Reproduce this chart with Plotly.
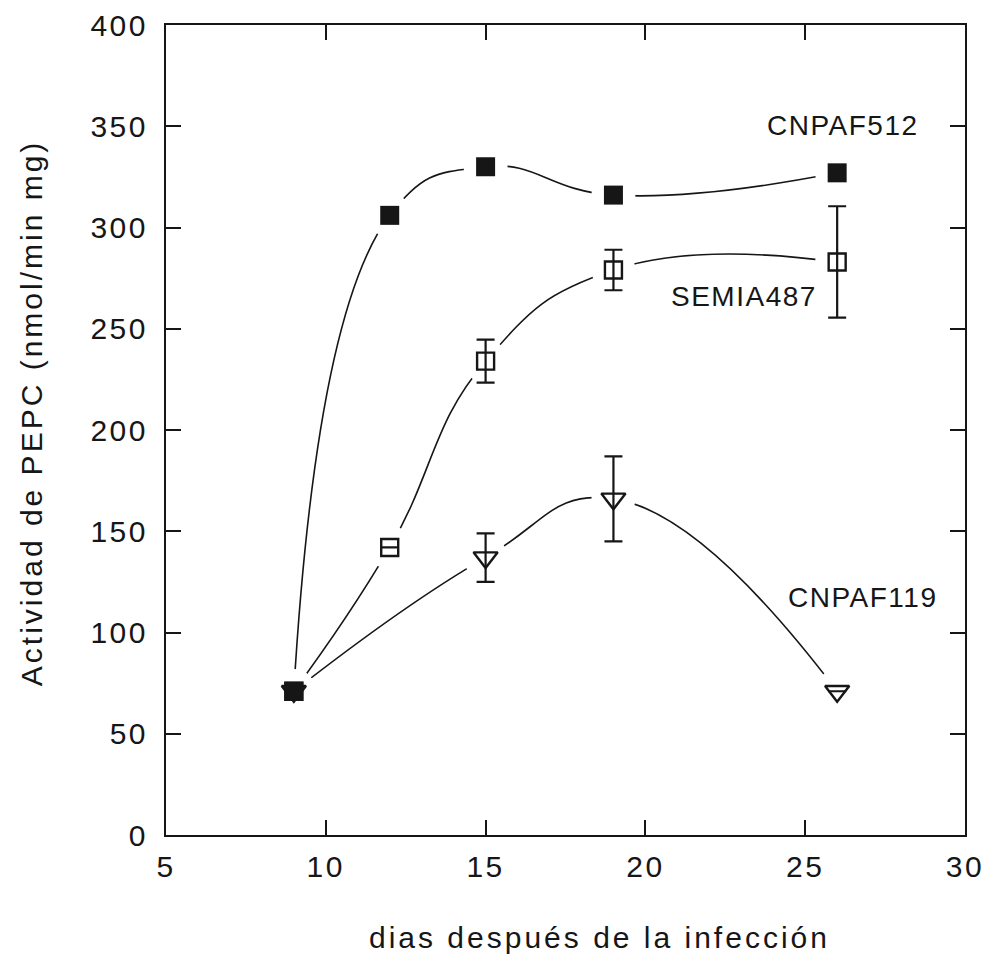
import plotly.graph_objects as go

# Días después de la infección
dias_512 = [9, 12, 15, 19, 26]
pepc_512 = [71, 306, 330, 316, 327]

dias_487 = [9, 12, 15, 19, 26]
pepc_487 = [71, 142, 234, 279, 283]
err_487 = [0, 0, 10.6, 10, 27.5]

dias_119 = [9, 15, 19, 26]
pepc_119 = [71, 137, 166, 71]
err_119 = [0, 12, 21, 0]

x_ticks = [5, 10, 15, 20, 25, 30]
y_ticks = [0, 50, 100, 150, 200, 250, 300, 350, 400]

INK = "#161616"
FONT = "Liberation Sans, Arial, sans-serif"
X_RANGE = [5, 30]
Y_RANGE = [0, 400]


def spaced(text, px):
    return f'<span style="letter-spacing:{px}px">{text}</span>'


series = [(dias_512, pepc_512), (dias_487, pepc_487), (dias_119, pepc_119)]

fig = go.Figure()

# smoothed connecting curves (base axes)
for xs, ys in series:
    fig.add_trace(go.Scatter(
        x=xs, y=ys, mode="lines",
        line=dict(color=INK, width=1.6, shape="spline", smoothing=1.3),
        hoverinfo="skip", showlegend=False,
    ))

# white halos on the overlay axes so the curves stop short of each symbol
for xs, ys in series:
    fig.add_trace(go.Scatter(
        x=xs, y=ys, mode="markers", xaxis="x2", yaxis="y2",
        marker=dict(symbol="circle", size=44, color="white", opacity=1,
                    line=dict(width=0)),
        hoverinfo="skip", showlegend=False,
    ))

# CNPAF119: open down-triangles with error bars
fig.add_trace(go.Scatter(
    x=dias_119, y=pepc_119, mode="markers", name="CNPAF119", xaxis="x2", yaxis="y2",
    marker=dict(symbol="triangle-down-open", size=21, color=INK, line=dict(width=2.4)),
    error_y=dict(type="data", array=err_119, visible=True, color=INK, thickness=2.2, width=9),
    showlegend=False,
))

# SEMIA487: open squares with error bars
fig.add_trace(go.Scatter(
    x=dias_487, y=pepc_487, mode="markers", name="SEMIA487", xaxis="x2", yaxis="y2",
    marker=dict(symbol="square-open", size=17, color=INK, line=dict(width=2.4)),
    error_y=dict(type="data", array=err_487, visible=True, color=INK, thickness=2.2, width=9),
    showlegend=False,
))

# CNPAF512: filled squares
fig.add_trace(go.Scatter(
    x=dias_512, y=pepc_512, mode="markers", name="CNPAF512", xaxis="x2", yaxis="y2",
    marker=dict(symbol="square", size=19, color=INK, line=dict(width=0)),
    showlegend=False,
))

axis_common = dict(
    showline=True, linecolor=INK, linewidth=2, mirror="ticks",
    ticks="inside", ticklen=15, tickwidth=2, tickcolor=INK,
    showgrid=False, zeroline=False, automargin=False,
    tickfont=dict(family=FONT, size=30, color=INK),
)

fig.update_layout(
    xaxis=dict(range=X_RANGE, tickmode="array", tickvals=x_ticks,
               ticktext=[spaced(str(v), 2.5) for v in x_ticks],
               ticklabelstandoff=4, **axis_common),
    yaxis=dict(range=Y_RANGE, tickmode="array", tickvals=y_ticks,
               ticktext=[spaced(str(v), 2.5) for v in y_ticks],
               ticklabelstandoff=10, **axis_common),
    xaxis2=dict(range=X_RANGE, overlaying="x", visible=False, automargin=False),
    yaxis2=dict(range=Y_RANGE, overlaying="y", visible=False, automargin=False),
)

label_font = dict(family=FONT, size=28, color=INK)
fig.add_annotation(x=26.19, y=350.6, xref="x", yref="y", showarrow=False,
                   text=spaced("CNPAF512", 1.5), font=label_font)
fig.add_annotation(x=23.09, y=265.7, xref="x", yref="y", showarrow=False,
                   text=spaced("SEMIA487", 1.5), font=label_font)
fig.add_annotation(x=26.78, y=117.5, xref="x", yref="y", showarrow=False,
                   text=spaced("CNPAF119", 1.5), font=label_font)

# axis titles
fig.add_annotation(x=0.543, y=-0.127, xref="paper", yref="paper", showarrow=False,
                   xanchor="center", yanchor="middle",
                   text=spaced("dias después de la infección", 3),
                   font=dict(family=FONT, size=30, color=INK))
fig.add_annotation(x=-0.169, y=0.522, xref="paper", yref="paper", showarrow=False,
                   xanchor="center", yanchor="middle", textangle=-90,
                   text=spaced("Actividad de PEPC (nmol/min mg)", 3),
                   font=dict(family=FONT, size=30, color=INK))

fig.update_layout(
    width=986, height=965,
    margin=dict(l=166, r=21, t=25, b=130),
    paper_bgcolor="white", plot_bgcolor="white",
)

fig.write_html("out.html")
